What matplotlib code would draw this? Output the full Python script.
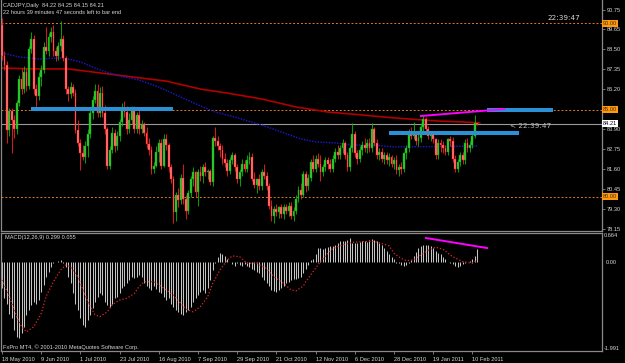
import matplotlib
matplotlib.use('Agg')
import matplotlib.pyplot as plt
from matplotlib import font_manager
import numpy as np

# ---------------------------------------------------------------
# data (CADJPY daily, 18 May 2010 ->)
# ---------------------------------------------------------------
opens = [
    89.90, 88.10, 87.60, 83.85, 84.95, 84.40, 83.90, 85.40, 86.80, 86.20,
    87.20, 86.40, 88.50, 89.10, 86.20, 85.80, 86.90, 87.30, 88.60, 88.40,
    89.20, 89.50, 88.40, 88.10, 88.70, 89.10, 88.00, 86.20, 85.90, 86.30,
    86.00, 83.85, 83.10, 82.50, 82.30, 82.90, 83.60, 84.80, 85.60, 86.10,
    84.80, 86.00, 84.80, 83.90, 81.80, 82.70, 83.70, 82.90, 83.50, 84.30,
    85.10, 84.90, 83.90, 84.40, 85.00, 83.90, 84.70, 83.90, 84.20, 83.70,
    83.05, 82.70, 81.60, 81.80, 82.60, 83.10, 81.80, 83.30, 83.00, 81.70,
    81.00, 79.10, 80.10, 79.80, 81.10, 79.90, 79.20, 80.20, 81.00, 81.40,
    80.30, 81.40, 81.20, 81.70, 81.40, 81.50, 80.85, 83.40, 83.20, 82.90,
    82.70, 82.20, 81.95, 81.50, 82.10, 82.40, 81.70, 81.00, 81.40, 81.90,
    81.60, 82.10, 82.30, 81.00, 80.70, 81.00, 80.60, 81.40, 81.20, 80.60,
    79.50, 78.90, 79.30, 79.10, 79.40, 79.00, 79.40, 79.20, 79.50, 78.90,
    79.20, 79.90, 80.40, 80.10, 81.30, 80.60, 81.10, 82.00, 81.60, 82.20,
    81.90, 81.40, 81.70, 82.10, 81.90, 81.60, 82.20, 82.60, 82.40, 82.80,
    83.10, 82.40, 81.70, 82.80, 83.60, 82.50, 82.20, 82.70, 83.00, 82.80,
    83.10, 82.80, 83.90, 83.10, 82.40, 82.60, 82.20, 82.40, 82.10, 82.30,
    81.90, 82.10, 81.55, 81.70, 81.60, 82.50, 82.80, 83.70, 83.50, 83.70,
    83.20, 83.40, 84.00, 84.50, 83.90, 83.50, 83.60, 83.30, 82.40, 83.10,
    83.00, 82.80, 82.60, 83.30, 83.20, 82.20, 81.60, 82.00, 82.40, 82.10,
    83.10, 82.80, 83.00, 83.50, 84.22,
]
highs = [
    90.30, 88.40, 87.80, 85.10, 85.10, 84.70, 85.60, 87.00, 87.40, 87.50,
    87.40, 88.70, 89.50, 89.30, 86.50, 87.20, 87.60, 88.90, 89.80, 89.40,
    89.80, 89.90, 88.60, 88.90, 90.10, 89.30, 88.10, 86.40, 86.60, 86.50,
    86.20, 84.40, 83.30, 83.00, 83.20, 83.90, 85.00, 85.80, 86.50, 86.50,
    86.30, 86.40, 85.30, 84.00, 82.90, 84.00, 83.90, 83.80, 84.50, 85.40,
    85.50, 85.20, 84.80, 85.20, 85.20, 84.90, 85.00, 84.40, 84.30, 84.00,
    83.40, 82.90, 82.00, 82.90, 83.30, 83.30, 83.60, 83.60, 83.10, 81.90,
    81.20, 80.30, 80.50, 81.30, 81.90, 80.10, 80.40, 81.20, 81.70, 81.50,
    81.60, 81.80, 81.90, 82.00, 81.60, 81.60, 83.50, 84.00, 83.50, 83.10,
    83.00, 82.50, 82.20, 82.30, 82.60, 82.50, 81.90, 81.60, 82.20, 82.10,
    82.40, 82.60, 82.50, 81.40, 81.10, 81.30, 81.60, 81.90, 81.40, 80.80,
    79.80, 79.50, 79.60, 79.50, 79.60, 79.60, 79.60, 79.70, 79.70, 79.40,
    80.10, 80.60, 80.80, 81.50, 81.50, 81.30, 82.20, 82.40, 82.40, 82.50,
    82.40, 81.90, 82.30, 82.30, 82.20, 82.40, 82.80, 83.00, 83.00, 83.30,
    83.20, 82.60, 83.00, 84.25, 83.80, 82.70, 82.90, 83.20, 83.40, 83.30,
    83.40, 84.25, 84.00, 83.30, 82.80, 82.80, 82.60, 82.60, 82.50, 82.40,
    82.30, 82.40, 81.90, 82.00, 82.60, 83.00, 83.90, 84.00, 84.30, 83.80,
    83.70, 84.25, 84.70, 84.60, 84.10, 83.80, 83.70, 83.40, 83.30, 83.30,
    83.20, 83.00, 83.40, 83.50, 83.45, 82.40, 82.20, 82.60, 82.60, 83.30,
    83.40, 83.20, 83.70, 84.70, 84.25,
]
lows = [
    87.90, 87.30, 83.10, 83.50, 82.50, 83.40, 83.60, 85.20, 85.90, 86.00,
    86.10, 86.20, 88.30, 85.90, 85.10, 85.60, 86.40, 87.10, 88.20, 88.10,
    88.90, 88.10, 87.80, 87.90, 88.40, 87.80, 85.90, 85.50, 85.70, 85.80,
    83.70, 82.90, 81.55, 82.10, 81.95, 82.30, 83.40, 84.50, 85.40, 84.60,
    84.60, 84.60, 83.60, 81.60, 81.60, 82.50, 82.60, 82.70, 83.20, 84.10,
    84.60, 83.60, 83.70, 84.20, 83.70, 83.70, 83.60, 83.70, 83.50, 82.80,
    82.40, 81.30, 81.35, 81.70, 82.00, 81.60, 81.70, 82.70, 81.40, 80.80,
    78.50, 78.60, 79.40, 79.60, 79.60, 78.70, 79.00, 80.00, 80.60, 80.00,
    79.50, 80.90, 80.80, 81.20, 81.00, 80.70, 80.60, 82.90, 82.70, 82.30,
    81.90, 81.70, 81.20, 81.30, 81.90, 81.50, 80.80, 80.60, 81.20, 81.40,
    81.40, 81.90, 80.90, 80.50, 80.20, 80.40, 80.40, 81.00, 80.40, 79.30,
    78.60, 78.50, 78.90, 78.80, 78.80, 78.70, 79.00, 78.90, 78.70, 78.60,
    79.00, 79.70, 79.90, 80.00, 80.30, 80.40, 80.90, 81.40, 81.40, 81.70,
    80.90, 81.20, 81.50, 81.60, 81.40, 81.40, 82.00, 82.20, 82.20, 82.50,
    82.20, 81.50, 81.50, 82.60, 82.30, 81.90, 82.00, 82.40, 82.60, 82.50,
    82.60, 82.60, 82.90, 82.20, 82.10, 82.00, 81.90, 81.90, 81.80, 81.70,
    81.60, 81.30, 81.20, 81.30, 81.40, 82.20, 82.60, 83.30, 83.30, 83.00,
    82.90, 83.15, 83.80, 83.70, 83.30, 83.20, 83.10, 82.20, 82.20, 82.60,
    82.50, 82.40, 82.40, 82.90, 82.00, 81.40, 81.40, 81.80, 81.90, 81.90,
    82.60, 82.60, 82.80, 83.40, 84.15,
]
closes = [
    88.10, 87.60, 83.85, 84.95, 84.40, 83.90, 85.40, 86.80, 86.20, 87.20,
    86.40, 88.50, 89.10, 86.20, 85.80, 86.90, 87.30, 88.60, 88.40, 89.20,
    89.50, 88.40, 88.10, 88.70, 89.10, 88.00, 86.20, 85.90, 86.30, 86.00,
    83.85, 83.10, 82.50, 82.30, 82.90, 83.60, 84.80, 85.60, 86.10, 84.80,
    86.00, 84.80, 83.90, 81.80, 82.70, 83.70, 82.90, 83.50, 84.30, 85.10,
    84.90, 83.90, 84.40, 85.00, 83.90, 84.70, 83.90, 84.20, 83.70, 83.05,
    82.70, 81.60, 81.80, 82.60, 83.10, 81.80, 83.30, 83.00, 81.70, 81.00,
    79.10, 80.10, 79.80, 81.10, 79.90, 79.20, 80.20, 81.00, 81.40, 80.30,
    81.40, 81.20, 81.70, 81.40, 81.50, 80.85, 83.40, 83.20, 82.90, 82.70,
    82.20, 81.95, 81.50, 82.10, 82.40, 81.70, 81.00, 81.40, 81.90, 81.60,
    82.10, 82.30, 81.00, 80.70, 81.00, 80.60, 81.40, 81.20, 80.60, 79.50,
    78.90, 79.30, 79.10, 79.40, 79.00, 79.40, 79.20, 79.50, 78.90, 79.20,
    79.90, 80.40, 80.10, 81.30, 80.60, 81.10, 82.00, 81.60, 82.20, 81.90,
    81.40, 81.70, 82.10, 81.90, 81.60, 82.20, 82.60, 82.40, 82.80, 83.10,
    82.40, 81.70, 82.80, 83.60, 82.50, 82.20, 82.70, 83.00, 82.80, 83.10,
    82.80, 83.90, 83.10, 82.40, 82.60, 82.20, 82.40, 82.10, 82.30, 81.90,
    82.10, 81.55, 81.70, 81.60, 82.50, 82.80, 83.70, 83.50, 83.70, 83.20,
    83.40, 84.00, 84.50, 83.90, 83.50, 83.60, 83.30, 82.40, 83.10, 83.00,
    82.80, 82.60, 83.30, 83.20, 82.20, 81.60, 82.00, 82.40, 82.10, 83.10,
    82.80, 83.00, 83.50, 84.25, 84.21,
]

# moving averages (bar index, price) read at points along the lines
ma_red_idx = [0, 13, 27, 40, 53, 67, 81, 92, 106, 120, 133, 147, 160, 178, 188, 195]
ma_red_val = [87.41, 87.36, 87.36, 87.13, 86.90, 86.66, 86.20, 85.97, 85.63,
              85.17, 84.88, 84.71, 84.54, 84.36, 84.31, 84.25]
ma_blue_idx = [0, 7, 15, 24, 27, 32, 40, 48, 56, 64, 73, 81, 87, 95, 106,
               114, 122, 128, 136, 144, 152, 160, 194]
ma_blue_val = [88.28, 88.05, 87.93, 87.99, 87.93, 87.76, 87.30, 86.95, 86.72,
               86.32, 85.74, 85.23, 84.88, 84.59, 84.13, 83.73, 83.33, 83.16,
               83.10, 82.98, 82.98, 82.87, 82.92]

# drawn objects on the price window
level_lines = [90.00, 85.00, 80.00]
bid_price = 84.21
hbar_start = [12, 158, 198]
hbar_end = [70, 211, 225]
hbar_price = [85.05, 83.67, 84.98]
trend_idx = [171, 205]
trend_val = [84.65, 85.05]

# MACD(12,26,9) histogram and signal
macd = [
    -0.60, -0.83, -0.95, -1.18, -1.29, -1.56, -1.71, -1.75, -1.63, -1.48,
    -1.21, -1.10, -0.98, -0.91, -0.95, -0.87, -0.68, -0.53, -0.34, -0.22,
    -0.11, -0.03, -0.01, 0.03, 0.05, -0.03, -0.11, -0.34, -0.49, -0.72,
    -0.95, -1.10, -1.29, -1.44, -1.48, -1.33, -1.21, -1.06, -0.91, -0.79,
    -0.72, -0.76, -0.91, -0.98, -1.02, -0.95, -0.83, -0.79, -0.72, -0.60,
    -0.56, -0.49, -0.41, -0.34, -0.37, -0.34, -0.30, -0.34, -0.49, -0.56,
    -0.60, -0.64, -0.56, -0.62, -0.68, -0.72, -0.79, -0.87, -0.83, -0.95,
    -1.02, -1.10, -1.14, -1.18, -1.21, -1.14, -1.10, -1.02, -0.91, -0.83,
    -0.76, -0.68, -0.64, -0.72, -0.60, -0.41, -0.18, -0.03, 0.12, 0.21,
    0.18, 0.14, 0.06, 0.00, -0.05, -0.08, -0.03, -0.06, -0.09, -0.05,
    -0.08, -0.11, -0.15, -0.18, -0.22, -0.26, -0.34, -0.41, -0.49, -0.56,
    -0.63, -0.66, -0.68, -0.64, -0.60, -0.56, -0.49, -0.45, -0.41, -0.40,
    -0.38, -0.37, -0.34, -0.26, -0.15, -0.07, 0.05, 0.08, 0.18, 0.31,
    0.31, 0.29, 0.31, 0.35, 0.37, 0.37, 0.39, 0.43, 0.47, 0.47,
    0.48, 0.50, 0.54, 0.44, 0.43, 0.44, 0.46, 0.47, 0.47, 0.46,
    0.50, 0.52, 0.50, 0.49, 0.43, 0.39, 0.31, 0.26, 0.18, 0.12,
    0.06, -0.02, -0.03, -0.06, -0.09, -0.06, -0.03, 0.05, 0.14, 0.24,
    0.31, 0.37, 0.39, 0.39, 0.40, 0.37, 0.31, 0.26, 0.21, 0.18,
    0.12, 0.06, 0.01, -0.02, -0.05, -0.08, -0.11, -0.08, -0.05, -0.03,
    0.00, 0.03, 0.06, 0.14, 0.30,
]
signal_idx = [0, 3, 6, 8, 10, 13, 16, 18, 21, 24, 26, 28, 31, 33, 36, 38, 40,
              43, 45, 48, 51, 54, 56, 58, 62, 65, 67, 70, 73, 75, 78, 81, 84,
              86, 89, 92, 94, 97, 100, 104, 108, 111, 115, 118, 120, 123, 124,
              127, 130, 133, 135, 139, 143, 148, 152, 154, 158, 160, 163, 165,
              168, 171, 174, 177, 180, 184, 188, 192, 194]
signal_val = [-0.41, -0.79, -1.25, -1.48, -1.60, -1.48, -1.18, -0.79, -0.45,
              -0.18, -0.07, -0.11, -0.34, -0.64, -1.02, -1.21, -1.25, -1.14,
              -0.98, -0.87, -0.83, -0.72, -0.56, -0.45, -0.45, -0.56, -0.64,
              -0.76, -0.95, -1.08, -1.14, -1.02, -0.79, -0.49, -0.18, 0.05,
              0.14, 0.12, -0.03, -0.03, -0.15, -0.34, -0.49, -0.64, -0.66,
              -0.55, -0.45, -0.22, 0.01, 0.20, 0.31, 0.39, 0.45, 0.47, 0.47,
              0.44, 0.37, 0.20, 0.08, 0.03, 0.05, 0.16, 0.27, 0.34, 0.29,
              0.12, 0.01, -0.03, 0.055]
macd_trend_idx = [173, 198]
macd_trend_val = [0.55, 0.32]

date_idx = [0, 16, 32, 48, 64, 80, 96, 112, 128, 144, 160, 176, 192]
date_labels = ['18 May 2010', '9 Jun 2010', '1 Jul 2010', '23 Jul 2010',
               '16 Aug 2010', '7 Sep 2010', '29 Sep 2010', '21 Oct 2010',
               '12 Nov 2010', '6 Dec 2010', '28 Dec 2010', '19 Jan 2011',
               '10 Feb 2011']
price_ticks = [78.15, 79.30, 80.45, 81.60, 82.75, 83.90, 86.20, 87.35, 88.50,
               89.65, 90.75]

# ---------------------------------------------------------------
# style
# ---------------------------------------------------------------
names = {f.name for f in font_manager.fontManager.ttflist}
if 'Liberation Sans Narrow' in names:
    plt.rcParams['font.family'] = ['Liberation Sans Narrow', 'DejaVu Sans']
    FS = 5.0
else:
    plt.rcParams['font.family'] = ['Liberation Sans', 'DejaVu Sans']
    FS = 4.1
TXT = '#d8d8d8'
GRID = '#8a8a8a'
BG = 'black'

W, H = 625, 363
fig = plt.figure(figsize=(W / 100, H / 100), dpi=100, facecolor=BG)


def px_axes(x0, y0, x1, y1):
    return fig.add_axes([x0 / W, 1 - y1 / H, (x1 - x0) / W, (y1 - y0) / H])


ax = px_axes(1, 0, 602, 231)
ax2 = px_axes(1, 233, 602, 351)

for a in (ax, ax2):
    a.set_facecolor(BG)
    a.set_xlim(-0.4, 244.9)
    for s in a.spines.values():
        s.set_color(GRID)
        s.set_linewidth(0.9)
ax.spines['top'].set_visible(False)

ax.set_ylim(78.034, 91.325)
ax2.set_ylim(-2.037, 0.664)

# ---------------- price window ----------------
o = np.array(opens)
h = np.array(highs)
l = np.array(lows)
c = np.array(closes)
idx = np.arange(len(c))
up = c >= o

for lv in level_lines:
    ax.axhline(lv, color='#e07a22', lw=0.7, dashes=(2, 2), zorder=1)
ax.axhline(bid_price, color='#9a9a9a', lw=0.8, zorder=1)

ax.plot(ma_red_idx, ma_red_val, color='#b00000', lw=1.2, zorder=2)
ax.plot(ma_blue_idx, ma_blue_val, color='#1a1ad8', lw=1.0,
        ls=(0, (1, 1)), zorder=2)

ax.vlines(idx[up], l[up], h[up], color='#00c000', lw=0.6, zorder=3)
ax.vlines(idx[~up], l[~up], h[~up], color='#ff2020', lw=0.6, zorder=3)
lo = np.minimum(o, c)
ht = np.maximum(np.abs(c - o), 0.04)
ax.bar(idx[up], ht[up], bottom=lo[up], width=0.75, color='#30d030',
       edgecolor='#10a010', lw=0.3, zorder=4)
ax.bar(idx[~up], ht[~up], bottom=lo[~up], width=0.75, color='#ff7878',
       edgecolor='#ff1818', lw=0.3, zorder=4)

for x0, x1, p in zip(hbar_start, hbar_end, hbar_price):
    ax.plot([x0, x1], [p, p], color='#2b90d4', lw=2.9,
            solid_capstyle='butt', zorder=5)
ax.plot(trend_idx, trend_val, color='#ff00ff', lw=1.4, zorder=5)

ax.yaxis.tick_right()
ax.set_yticks(price_ticks)
ax.set_yticklabels([f'{v:.2f}' for v in price_ticks])
ax.tick_params(axis='y', colors=GRID, labelcolor=TXT, labelsize=FS,
               length=2, width=0.6, pad=1.5)
ax.set_xticks([])

for lv in level_lines:
    ax.text(1.002, lv, f'{lv:.2f}', transform=ax.get_yaxis_transform(),
            ha='left', va='center', fontsize=FS, color='#4a2a00',
            bbox=dict(boxstyle='square,pad=0.18', fc='#ff9a10', ec='none'),
            clip_on=False, zorder=10)
ax.text(1.002, bid_price, f'{bid_price:.2f}', transform=ax.get_yaxis_transform(),
        ha='left', va='center', fontsize=FS, color='black',
        bbox=dict(boxstyle='square,pad=0.18', fc='white', ec='none'),
        clip_on=False, zorder=10)

fig.text(3 / W, 1 - 6 / H, 'CADJPY,Daily  84.22 84.25 84.15 84.21',
         fontsize=FS, color=TXT, ha='left', va='center')
fig.text(3 / W, 1 - 13 / H, '22 hours 39 minutes 47 seconds left to bar end',
         fontsize=FS, color=TXT, ha='left', va='center')
fig.text(580 / W, 1 - 18 / H, '22:39:47', fontsize=5.2, color=TXT,
         ha='right', va='center', family='DejaVu Sans')
fig.text(510 / W, 1 - 126 / H, '< 22:39:47', fontsize=5.2, color='#b8b8b8',
         ha='left', va='center', family='DejaVu Sans')

# ---------------- MACD window ----------------
ax2.vlines(idx, 0, macd, color='#c4c4c4', lw=0.75, zorder=2)
ax2.plot(signal_idx, signal_val, color='#e02828', lw=0.9,
         ls=(0, (1, 1.6)), zorder=3)
ax2.plot(macd_trend_idx, macd_trend_val, color='#ff00ff', lw=1.4, zorder=4)

ax2.yaxis.tick_right()
ax2.set_yticks([0.0])
ax2.set_yticklabels(['0.00'])
ax2.tick_params(axis='y', colors=GRID, labelcolor=TXT, labelsize=FS,
                length=0, pad=3)
fig.text(604 / W, 1 - 233 / H, '0.664', fontsize=FS, color=TXT,
         ha='left', va='top')
fig.text(604 / W, 1 - 349 / H, '-1.991', fontsize=FS, color=TXT,
         ha='left', va='center')

ax2.set_xticks(date_idx)
ax2.set_xticklabels(date_labels, ha='left')
ax2.tick_params(axis='x', colors=GRID, labelcolor=TXT, labelsize=FS,
                length=2.5, width=0.6, pad=1.5)

fig.text(5 / W, 1 - 237 / H, 'MACD(12,26,9) 0.299 0.055', fontsize=FS,
         color=TXT, ha='left', va='center')
fig.text(3 / W, 1 - 347 / H, 'FxPro MT4, \u00a9 2001-2010 MetaQuotes Software Corp.',
         fontsize=FS, color=TXT, ha='left', va='center')

fig.savefig('out.png', dpi=100, facecolor=BG)
